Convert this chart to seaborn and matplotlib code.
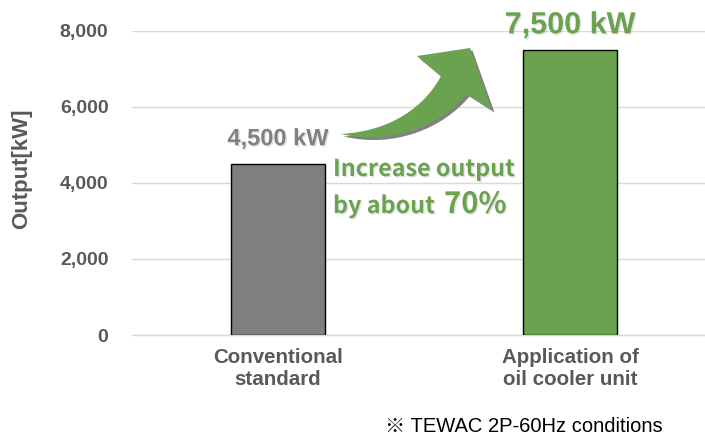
import matplotlib
matplotlib.use("Agg")
import matplotlib.pyplot as plt
import matplotlib.patheffects as pe
from matplotlib.path import Path
from matplotlib.patches import PathPatch
import matplotlib.transforms as mtransforms
import seaborn as sns
import pandas as pd

categories = ["Conventional\nstandard", "Application of\noil cooler unit"]
values = [4500, 7500]
value_labels = ["4,500 kW", "7,500 kW"]
bar_colors = ["#7f7f7f", "#6aa24f"]
yticks = [0, 2000, 4000, 6000, 8000]
ytick_labels = ["0", "2,000", "4,000", "6,000", "8,000"]
ylabel = "Output[kW]"
note = "※ TEWAC 2P-60Hz conditions"
callout_line1 = "Increase output"
callout_line2 = "by about "
callout_pct = "70%"

sns.set_theme(style="white")
plt.rcParams["font.family"] = ["Liberation Sans", "Noto Sans CJK JP", "DejaVu Sans"]

W, H = 705, 440
fig = plt.figure(figsize=(W / 100, H / 100), dpi=100)
ax = fig.add_axes([132 / W, (H - 335) / H, 584 / W, 304 / H])

df = pd.DataFrame({"category": categories, "value": values})
sns.barplot(data=df, x="category", y="value", hue="category",
            palette=bar_colors, legend=False, width=0.32, saturation=1,
            edgecolor="black", linewidth=1.0, ax=ax, zorder=3)

ax.set_xlim(-0.5, 1.5)
ax.set_ylim(0, 8000)
ax.set_yticks(yticks)
ax.set_yticklabels(ytick_labels)
ax.grid(axis="y", color="#d9d9d9", linewidth=1.0, zorder=0)
ax.set_axisbelow(True)
for s in ["left", "right", "top"]:
    ax.spines[s].set_visible(False)
ax.spines["bottom"].set_color("#d9d9d9")
ax.spines["bottom"].set_linewidth(1.0)
ax.tick_params(axis="both", length=0)
ax.tick_params(axis="y", pad=17)
ax.tick_params(axis="x", pad=9)
for lab in ax.get_yticklabels():
    lab.set_fontweight("bold")
    lab.set_fontsize(14)
    lab.set_color("#595959")
for lab in ax.get_xticklabels():
    lab.set_fontweight("bold")
    lab.set_fontsize(14.8)
    lab.set_color("#595959")
ax.set_xlabel("")
ax.set_ylabel("")

fig.text(22 / W, 1 - 169 / H, ylabel, rotation=90, ha="center", va="center",
         fontsize=16, fontweight="bold", color="#595959")

shadow = [pe.withSimplePatchShadow(offset=(1.0, -1.0), shadow_rgbFace="#777777", alpha=0.2)]

# value labels
ax.annotate(value_labels[0], xy=(0, values[0]), xytext=(0, 13.5), textcoords="offset points",
            ha="center", va="baseline", fontsize=17, fontweight="bold", color="#808080",
            path_effects=shadow, annotation_clip=False)
ax.annotate(value_labels[1], xy=(1, values[1]), xytext=(0, 12), textcoords="offset points",
            ha="center", va="baseline", fontsize=22, fontweight="bold", color=bar_colors[1],
            path_effects=shadow, annotation_clip=False)

# curved arrow (figure pixel coordinates, image y downward)
def P(x, y):
    return (x / W, 1 - y / H)

verts = [P(341, 134),
         P(392, 131), P(425, 106), P(441, 76),
         P(417, 56),
         P(470, 48),
         P(492, 110),
         P(467, 94),
         P(440, 126), P(392, 146), P(341, 134),
         P(341, 134)]
codes = [Path.MOVETO,
         Path.CURVE4, Path.CURVE4, Path.CURVE4,
         Path.LINETO,
         Path.LINETO,
         Path.LINETO,
         Path.LINETO,
         Path.CURVE4, Path.CURVE4, Path.CURVE4,
         Path.CLOSEPOLY]
arrow_path = Path(verts, codes)
off = mtransforms.ScaledTranslation(2.5 / 100, -2.5 / 100, fig.dpi_scale_trans)
fig.patches.append(PathPatch(arrow_path, transform=fig.transFigure + off,
                             facecolor="#808080", edgecolor="none", zorder=4))
fig.patches.append(PathPatch(arrow_path, transform=fig.transFigure,
                             facecolor=bar_colors[1], edgecolor="none", zorder=5))

# callout text
cfam = ["Noto Sans CJK JP", "DejaVu Sans"]
fig.text(333 / W, 1 - 176 / H, callout_line1, ha="left", va="baseline", fontsize=16.8,
         fontweight="bold", color=bar_colors[1], family=cfam, path_effects=shadow)
fig.text(333 / W, 1 - 213 / H, callout_line2, ha="left", va="baseline", fontsize=16.8,
         fontweight="bold", color=bar_colors[1], family=cfam, path_effects=shadow)
fig.text(444 / W, 1 - 213 / H, callout_pct, ha="left", va="baseline", fontsize=21,
         fontweight="bold", color=bar_colors[1], family=cfam, path_effects=shadow)

fig.text(385 / W, 1 - 426 / H, note, ha="left", va="center", fontsize=14.5,
         color="black")

fig.savefig("out.png", dpi=100)
